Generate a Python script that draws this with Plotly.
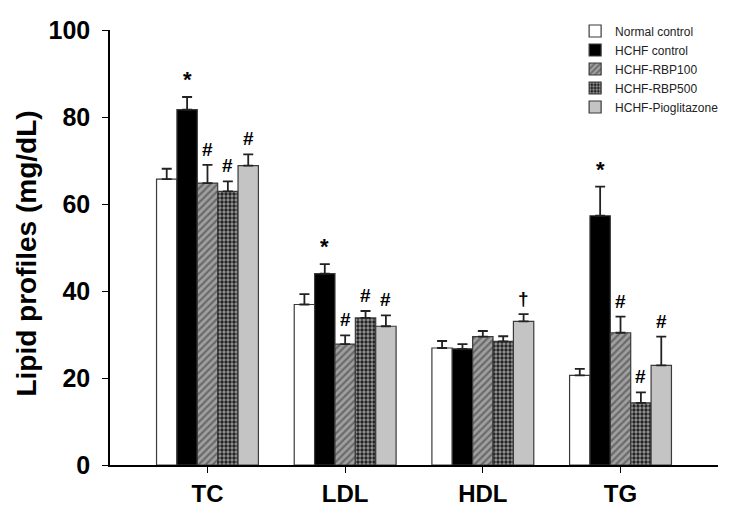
import plotly.graph_objects as go

categories = ["TC", "LDL", "HDL", "TG"]
groups = ["Normal control", "HCHF control", "HCHF-RBP100", "HCHF-RBP500", "HCHF-Pioglitazone"]
means = {
    "Normal control":    [65.7, 36.9, 26.9, 20.6],
    "HCHF control":      [81.7, 44.0, 26.7, 57.3],
    "HCHF-RBP100":       [64.8, 27.8, 29.5, 30.4],
    "HCHF-RBP500":       [62.9, 33.8, 28.4, 14.3],
    "HCHF-Pioglitazone": [68.8, 31.9, 33.0, 22.9],
}
errors = {
    "Normal control":    [2.4, 2.4, 1.6, 1.5],
    "HCHF control":      [2.9, 2.2, 1.1, 6.7],
    "HCHF-RBP100":       [4.2, 2.0, 1.3, 3.7],
    "HCHF-RBP500":       [2.3, 1.6, 1.2, 2.4],
    "HCHF-Pioglitazone": [2.6, 2.5, 1.7, 6.6],
}
marks = {
    "Normal control":    ["", "", "", ""],
    "HCHF control":      ["*", "*", "", "*"],
    "HCHF-RBP100":       ["#", "#", "", "#"],
    "HCHF-RBP500":       ["#", "#", "", "#"],
    "HCHF-Pioglitazone": ["#", "#", "†", "#"],
}
y_ticks = [0, 20, 40, 60, 80, 100]
y_title = "Lipid profiles (mg/dL)"

FONT = "Liberation Sans, Arial"
styles = {
    "Normal control":    dict(color="white"),
    "HCHF control":      dict(color="black"),
    "HCHF-RBP100":       dict(color="#8a8a8a", pattern=dict(shape="/", fgcolor="#333333", bgcolor="#a0a0a0", size=5, solidity=0.45)),
    "HCHF-RBP500":       dict(color="#555555", pattern=dict(shape=".", fgcolor="white", bgcolor="#1a1a1a", size=4, solidity=0.55)),
    "HCHF-Pioglitazone": dict(color="#c4c4c4"),
}

bargap = 0.26
n = len(groups)
bw = (1 - bargap) / n

fig = go.Figure()
annotations = []
for gi, g in enumerate(groups):
    fig.add_trace(go.Bar(
        name=g, x=categories, y=means[g],
        marker=dict(**styles[g], line=dict(color="#3a3a3a", width=1.2)),
        error_y=dict(type="data", symmetric=False, array=errors[g],
                     arrayminus=[0] * len(categories),
                     color="#222222", thickness=1.8, width=5),
    ))
    for ci, c in enumerate(categories):
        m = marks[g][ci]
        if m:
            annotations.append(dict(
                x=ci + (gi - (n - 1) / 2) * bw, y=means[g][ci] + errors[g][ci],
                xref="x", yref="y", text=m, showarrow=False,
                yanchor="bottom", yshift=3,
                font=dict(family=FONT, size=19 if m != "*" else 22, color="black", weight="bold"),
            ))

# y-axis title as a rotated text annotation so it can sit close to the left edge
annotations.append(dict(
    text=y_title, xref="paper", yref="paper", x=-0.1365, y=0.486,
    xanchor="center", yanchor="middle", textangle=-90, showarrow=False,
    font=dict(family=FONT, size=28, color="black", weight="bold"),
))

# the page adds an 8px offset; margins compensate so the plot sits at x 110-718, y 16-465
fig.update_layout(
    width=750, height=512,
    margin=dict(l=102, r=40, t=8, b=55),
    plot_bgcolor="white", paper_bgcolor="white",
    barmode="group", bargap=bargap, bargroupgap=0,
    font=dict(family=FONT, color="black"),
    annotations=annotations,
    legend=dict(x=0.765, y=1.031, xanchor="left", yanchor="top",
                font=dict(size=12, color="#222222"), bgcolor="rgba(0,0,0,0)",
                itemwidth=30, tracegroupgap=0),
    showlegend=True,
)
fig.update_xaxes(
    type="category", range=[-0.708, 3.708], automargin=False,
    showline=True, linecolor="black", linewidth=1.5,
    ticks="outside", ticklen=6, tickcolor="black",
    tickfont=dict(size=24, family=FONT, weight="bold"),
    ticklabelstandoff=0,
    showgrid=False, zeroline=False,
)
fig.update_yaxes(
    range=[0, 100], tickvals=y_ticks, automargin=False,
    showline=True, linecolor="black", linewidth=1.5,
    ticks="outside", ticklen=6, tickcolor="black",
    tickfont=dict(size=25, family=FONT, weight="bold"),
    ticklabelstandoff=7,
    showgrid=False, zeroline=False,
)

fig.write_html("out.html")
